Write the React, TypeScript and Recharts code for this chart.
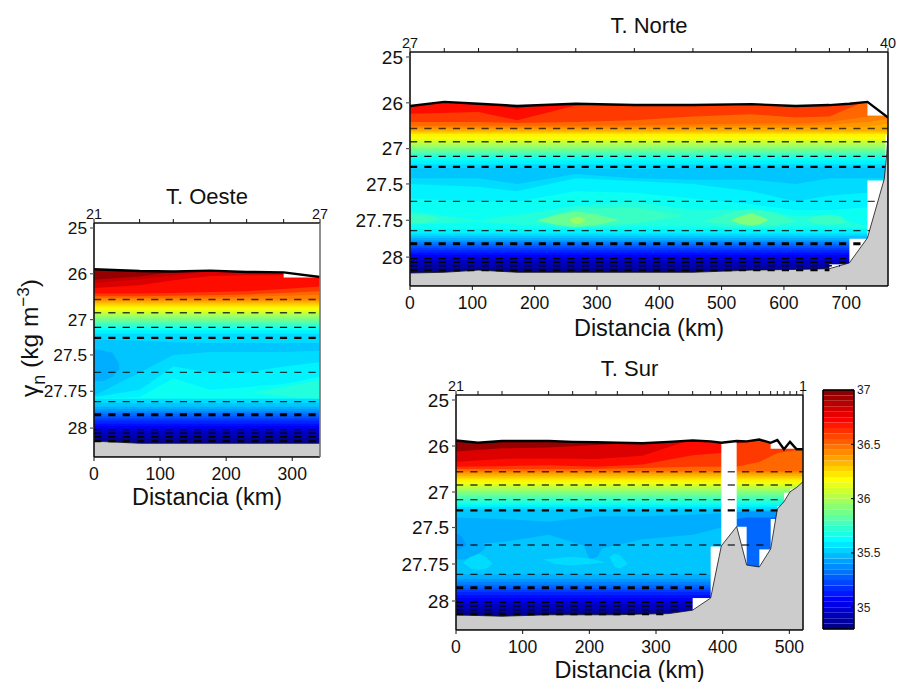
import { Area, Bar, BarChart, ComposedChart, Line, XAxis, YAxis } from 'recharts'

// rows are [salinity level, upper limit of that level in gamma-n at each knot]
// one value in the list means the limit is level over the whole section
type Row = [number, number[]]
type Blob = [number, number[], number[], number[]]

const GAMMA_TICKS = [25, 26, 27, 27.5, 27.75, 28]
const GAMMA_STOPS = [24.9, 25, 26, 27, 27.5, 27.75, 28, 28.2]
const AXIS_STOPS = [0, 5, 51, 97, 132.5, 169, 206, 235]
const ISOLINES = [26.56, 26.85, 27.11, 27.26, 27.62, 27.82, 27.91, 28.01, 28.035, 28.06, 28.09]
const ISOLINE_WIDTH = [1.6, 1.5, 1.1, 2.2, 1.3, 1.3, 3, 1.2, 1.4, 1.5, 2.4]
const ISOLINE_OPACITY = [0.7, 0.75, 1, 1, 0.75, 0.8, 1, 1, 1, 1, 1]

const THERMOCLINE_OESTE: Row[] = [
  [36.45, [26.53, 26.53, 26.53, 26.52, 26.5, 26.48, 26.46]], [36.4, [26.56]], [36.35, [26.6]], [36.3, [26.63]],
  [36.25, [26.67]], [36.2, [26.71]], [36.15, [26.75]], [36.1, [26.8]], [36.05, [26.84]], [36, [26.88]],
  [35.95, [26.92]], [35.9, [26.96]], [35.85, [27]], [35.8, [27.03]], [35.75, [27.06]], [35.7, [27.09]],
  [35.65, [27.12]], [35.6, [27.15]], [35.55, [27.2]],
]
const DEEP_OESTE: Row[] = [
  [35.55, [27.8]], [35.5, [27.83]], [35.45, [27.855]], [35.4, [27.87]], [35.35, [27.885]], [35.3, [27.9]],
  [35.25, [27.92]], [35.2, [27.935]], [35.15, [27.95]], [35.1, [27.97]], [35.05, [27.985]], [35, [28]],
  [34.95, [28.02]], [34.9, [28.045]], [34.85, [28.07]],
]
const OESTE_STATIONS = [0, 69, 120, 176, 231, 287, 342]
const OESTE_SURFACE = [25.9, 25.94, 25.95, 25.93, 25.96, 25.97, 26.07]
const OESTE_GROUND = [28.09, 28.105, 28.105, 28.105, 28.105, 28.105, 28.105]
const OESTE_ROWS: Row[] = [
  [36.95, [25.7]],
  [36.85, [26.13, 26.06, 25.96, 25.85, 25.85, 25.85, 25.85]],
  [36.8, [26.2, 26.12, 26.03, 25.95, 25.9, 25.85, 25.85]],
  [36.7, [26.31, 26.25, 26.14, 26.05, 26.03, 26.03, 26.1]],
  [36.6, [26.43, 26.43, 26.42, 26.4, 26.38, 26.33, 26.28]],
  [36.5, [26.49, 26.49, 26.48, 26.47, 26.45, 26.42, 26.38]],
  ...THERMOCLINE_OESTE,
  [35.5, [27.28, 27.3, 27.32, 27.33, 27.33, 27.33, 27.33]],
  [35.55, [27.78, 27.62, 27.5, 27.46, 27.46, 27.46, 27.44]],
  [35.6, [27.79, 27.74, 27.58, 27.62, 27.62, 27.58, 27.55]],
  [35.65, [27.8, 27.79, 27.66, 27.74, 27.72, 27.7, 27.65]],
  ...DEEP_OESTE,
]
const OESTE_BLOBS: Blob[] = [
  [35.45, [0, 14, 28, 38], [27.42, 27.44, 27.47, 27.56], [27.68, 27.68, 27.65, 27.6]],
  [35.7, [240, 300, 342], [27.76, 27.71, 27.67], [27.76, 27.79, 27.8]],
]
const OESTE_MASKS: Blob[] = [[0, [287, 342], [25.9, 25.9], [26.08, 26.08]]]
const OESTE_ENDS = [342, 342, 342, 342, 342, 342, 342, 342, 342, 342, 342]

const NORTE_KNOTS = [0, 110, 172, 266, 360, 454, 548, 619, 673, 734, 767]
const NORTE_STATIONS = [0, 55, 110, 172, 266, 360, 454, 548, 619, 673, 705, 734, 767]
const NORTE_SURFACE = [26.07, 25.98, 26.02, 26.07, 26.02, 26.05, 26.05, 26.03, 26.07, 26.05, 26.02, 25.98, 26.32]
const NORTE_GROUND_AT = [0, 55, 110, 172, 266, 360, 454, 548, 619, 673, 705, 734, 761, 765, 767]
const NORTE_GROUND = [28.11, 28.105, 28.09, 28.105, 28.105, 28.105, 28.105, 28.09, 28.085, 28.08, 28.04, 27.87, 27.43, 27.07, 26.7]
const NORTE_ROWS: Row[] = [
  [36.7, [25.7]],
  [36.6, [26.24, 26.2, 26.38, 26.06, 25.9, 25.9, 25.9, 25.9, 25.9, 25.9, 26.2]],
  [36.5, [26.42, 26.42, 26.44, 26.42, 26.38, 26.3, 26.25, 26.32, 26.3, 25.95, 25.95]],
  [36.45, [26.5, 26.5, 26.5, 26.5, 26.49, 26.47, 26.45, 26.45, 26.42, 26.3, 26.27]],
  [36.4, [26.54, 26.54, 26.54, 26.54, 26.53, 26.52, 26.5, 26.5, 26.48, 26.42, 26.35]],
  [36.35, [26.58, 26.58, 26.58, 26.58, 26.57, 26.56, 26.55, 26.55, 26.54, 26.52, 26.45]],
  [36.3, [26.62]], [36.25, [26.65]], [36.2, [26.68]], [36.15, [26.74]], [36.1, [26.8]], [36.05, [26.85]],
  [36, [26.9]], [35.95, [26.94]], [35.9, [26.98]], [35.85, [27.01]], [35.8, [27.04]], [35.75, [27.07]],
  [35.7, [27.1]], [35.65, [27.13]], [35.6, [27.17]],
  [35.55, [27.22]],
  [35.5, [27.28, 27.27, 27.27, 27.28, 27.29, 27.27, 27.26, 27.27, 27.26, 27.27, 27.27]],
  [35.55, [27.42, 27.42, 27.5, 27.36, 27.42, 27.44, 27.44, 27.5, 27.42, 27.42, 27.42]],
  [35.6, [27.5, 27.52, 27.55, 27.42, 27.46, 27.5, 27.55, 27.62, 27.58, 27.56, 27.56]],
  [35.65, [27.6, 27.62, 27.62, 27.55, 27.56, 27.6, 27.64, 27.68, 27.68, 27.66, 27.66]],
  [35.7, [27.69, 27.75, 27.71, 27.65, 27.62, 27.68, 27.68, 27.72, 27.72, 27.79, 27.8]],
  [35.65, [27.78, 27.76, 27.78, 27.8, 27.79, 27.79, 27.8, 27.79, 27.79, 27.8, 27.8]],
  [35.6, [27.81]], [35.55, [27.84]], [35.5, [27.855]], [35.45, [27.87]], [35.4, [27.885]], [35.35, [27.895]],
  [35.3, [27.91]], [35.25, [27.925]], [35.2, [27.94]], [35.15, [27.955]], [35.1, [27.97]], [35.05, [27.985]],
  [35, [28]], [34.95, [28.02]], [34.9, [28.045]], [34.85, [28.075]],
]
const NORTE_BLOBS: Blob[] = [
  [36.8, [150, 172, 195], [26.07, 26.07, 26.07], [26.07, 26.13, 26.07]],
  [35.5, [130, 172, 240], [27.3, 27.32, 27.3], [27.3, 27.38, 27.3]],
  [35.5, [590, 619, 650], [27.42, 27.4, 27.44], [27.42, 27.48, 27.44]],
  [35.75, [0, 25, 48], [27.71, 27.71, 27.74], [27.77, 27.77, 27.74]],
  [35.75, [200, 266, 360, 440], [27.76, 27.67, 27.66, 27.72], [27.76, 27.8, 27.77, 27.72]],
  [35.85, [205, 235, 266, 300, 335], [27.75, 27.71, 27.69, 27.71, 27.75], [27.75, 27.78, 27.795, 27.78, 27.75]],
  [35.95, [256, 262, 270, 277, 283], [27.75, 27.73, 27.725, 27.735, 27.75], [27.75, 27.77, 27.775, 27.765, 27.75]],
  [35.75, [470, 510, 548, 590, 620], [27.76, 27.7, 27.67, 27.7, 27.76], [27.76, 27.78, 27.79, 27.78, 27.76]],
  [35.9, [515, 530, 548, 562, 575], [27.75, 27.72, 27.7, 27.72, 27.75], [27.75, 27.775, 27.785, 27.775, 27.75]],
  [35.75, [635, 650, 670, 690, 702], [27.75, 27.72, 27.71, 27.72, 27.76], [27.75, 27.77, 27.78, 27.775, 27.76]],
]
const NORTE_MASKS: Blob[] = [
  [0, [734, 767], [25.9, 25.9], [26.28, 26.28]],
  [0, [734, 767], [27.45, 27.45], [28.2, 28.2]],
  [0, [763, 767], [26.7, 26.7], [27.5, 27.5]],
  [0, [705, 734], [27.875, 27.875], [28.2, 28.2]],
  [0, [673, 705], [28.05, 28.05], [28.2, 28.2]],
]
const NORTE_ENDS = [767, 767, 765, 762, 750, 738, 725, 705, 705, 690, 673]

const SUR_KNOTS = [0, 69, 139, 210, 280, 355, 398, 421, 455, 482, 520.5]
const SUR_STATIONS = [0, 33, 69, 139, 175, 210, 242, 280, 319, 355, 382, 398, 421, 436, 455, 472, 482, 492, 501, 511, 520.5]
const SUR_SURFACE = [25.88, 25.93, 25.89, 25.89, 25.91, 25.92, 25.93, 25.94, 25.91, 25.88, 25.9, 25.93, 25.89, 25.9, 25.86, 25.93, 25.87, 26.07, 25.91, 26.07, 26.07]
const SUR_GROUND = [28.097, 28.1, 28.105, 28.095, 28.095, 28.095, 28.095, 28.09, 28.087, 28.063, 27.98, 27.626, 27.486, 27.757, 27.77, 27.647, 27.24, 27.136, 26.996, 26.9, 26.776]
const SUR_ROWS: Row[] = [
  [36.95, [25.7]],
  [36.8, [26.12, 26.05, 26.03, 25.98, 25.92, 25.85, 25.8, 25.8, 25.8, 25.8, 25.8]],
  [36.7, [26.34, 26.28, 26.27, 26.28, 26.21, 25.85, 25.85, 25.85, 25.85, 25.85, 25.85]],
  [36.6, [26.45, 26.44, 26.42, 26.45, 26.4, 26.2, 26.15, 25.95, 25.85, 25.85, 25.85]],
  [36.5, [26.5, 26.5, 26.5, 26.5, 26.48, 26.45, 26.45, 26.45, 26.35, 26.15, 26.07]],
  [36.45, [26.54]], [36.4, [26.57]], [36.35, [26.61]], [36.3, [26.65]], [36.25, [26.69]], [36.2, [26.73]],
  [36.15, [26.78]], [36.1, [26.83]], [36.05, [26.87]], [36, [26.91]], [35.95, [26.95]], [35.9, [26.99]],
  [35.85, [27.03]], [35.8, [27.06]], [35.75, [27.09]], [35.7, [27.12]], [35.65, [27.15]], [35.6, [27.18]],
  [35.55, [27.21]],
  [35.5, [27.25]],
  [35.45, [27.36, 27.38, 27.42, 27.34, 27.34, 27.32, 27.3, 27.3, 27.3, 27.3, 27.3]],
  [35.5, [27.62, 27.6, 27.55, 27.65, 27.58, 27.55, 27.5, 27.5, 27.5, 27.5, 27.5]],
  [35.45, [27.82]], [35.4, [27.85]], [35.35, [27.87]], [35.3, [27.89]], [35.25, [27.91]], [35.2, [27.925]],
  [35.15, [27.94]], [35.1, [27.96]], [35.05, [27.98]], [35, [28]], [34.95, [28.02]], [34.9, [28.045]], [34.85, [28.07]],
]
const SUR_BLOBS: Blob[] = [
  [35.45, [0, 12, 28, 44], [27.5, 27.5, 27.54, 27.62], [27.72, 27.72, 27.7, 27.64]],
  [35.4, [0, 8, 16], [27.54, 27.56, 27.62], [27.66, 27.64, 27.62]],
  [35.45, [190, 200, 212, 222], [27.56, 27.5, 27.52, 27.6], [27.6, 27.72, 27.7, 27.62]],
  [35.55, [10, 22, 34, 45, 55], [27.74, 27.7, 27.68, 27.7, 27.75], [27.74, 27.78, 27.79, 27.78, 27.75]],
  [35.55, [130, 150, 172, 200, 225], [27.72, 27.71, 27.7, 27.71, 27.74], [27.72, 27.75, 27.76, 27.75, 27.74]],
  [35.55, [230, 238, 246, 258], [27.7, 27.68, 27.69, 27.75], [27.7, 27.77, 27.78, 27.75]],
  [35.4, [421, 436, 455, 482], [27.28, 27.27, 27.27, 27.27], [28.05, 28.05, 28.05, 28.05]],
  [35.3, [421, 436, 455, 482], [27.38, 27.36, 27.36, 27.36], [28.05, 28.05, 28.05, 28.05]],
]
const SUR_MASKS: Blob[] = [
  [0, [398, 421], [25.8, 25.8], [27.7, 27.7]],
  [0, [382, 398], [27.63, 27.63], [28.2, 28.2]],
  [0, [355, 382], [27.98, 27.98], [28.2, 28.2]],
  [0, [421, 436], [27.49, 27.49], [28.2, 28.2]],
  [0, [455, 472], [27.65, 27.65], [28.2, 28.2]],
  [0, [472, 482], [27.38, 27.38], [28.2, 28.2]],
  [0, [482, 492], [27.2, 27.2], [28.2, 28.2]],
  [0, [492, 501], [27.01, 27.01], [28.2, 28.2]],
  [0, [501, 511], [26.93, 26.93], [28.2, 28.2]],
  [0, [472, 520.5], [25.8, 25.8], [26.06, 26.06]],
]
const SUR_ENDS = [520.5, 505, 490, 482, 472, 385, 372, 355, 355, 340, 315]

const COLORBAR_LEVELS = [
  34.8, 34.85, 34.9, 34.95, 35, 35.05, 35.1, 35.15, 35.2, 35.25, 35.3, 35.35, 35.4, 35.45, 35.5, 35.55, 35.6, 35.65, 35.7, 35.75, 35.8, 35.85,
  35.9, 35.95, 36, 36.05, 36.1, 36.15, 36.2, 36.25, 36.3, 36.35, 36.4, 36.45, 36.5, 36.55, 36.6, 36.65, 36.7, 36.75, 36.8, 36.85, 36.9, 36.95,
]
const COLORBAR_TICKS = [35, 35.5, 36, 36.5, 37]

const FONT = '"Liberation Sans", Arial, sans-serif'
const INK = '#111'

function toAxis(g: number) {
  for (let i = 1; i < GAMMA_STOPS.length; i++) {
    if (g <= GAMMA_STOPS[i]) {
      const f = (g - GAMMA_STOPS[i - 1]) / (GAMMA_STOPS[i] - GAMMA_STOPS[i - 1])
      return AXIS_STOPS[i - 1] + f * (AXIS_STOPS[i] - AXIS_STOPS[i - 1])
    }
  }
  return AXIS_STOPS[AXIS_STOPS.length - 1]
}

// jet colormap over the 34.8 - 37 salinity range
function levelColor(s: number) {
  const t = (s - 34.8) / 2.2
  const ch = (c: number) => Math.round(255 * Math.max(0, Math.min(1, 1.5 - Math.abs(4 * t - c))))
  return `rgb(${ch(3)},${ch(2)},${ch(1)})`
}

const BOTTOM = 28.2
const rowPoints = (knots: number[], g: number[]) =>
  knots.map((d, i) => ({ d, y: [toAxis(g.length === 1 ? g[0] : g[i]), toAxis(BOTTOM)] }))
const blobPoints = (at: number[], lo: number[], hi: number[]) =>
  at.map((d, i) => ({ d, y: [toAxis(lo[i]), toAxis(hi[i])] }))

interface PanelProps {
  left: number
  top: number
  width: number
  height: number
  title: string
  maxKm: number
  xTicks: number[]
  stations: number[]
  firstLabel: string
  lastLabel: string
  knots: number[]
  rows: Row[]
  blobs: Blob[]
  masks: Blob[]
  surface: number[]
  groundAt: number[]
  ground: number[]
  ends: number[]
  rightColor: string
  yFont: number
  labelOffset: number
}

function Panel(p: PanelProps) {
  const padL = 60, padR = 24, padT = 60, padB = 60
  const w = p.width + padL + padR
  const h = p.height + padT + padB
  const domainY: [number, number] = [toAxis(24.9), toAxis(BOTTOM)]
  const domainX: [number, number] = [0, p.maxKm]
  const anim = { isAnimationActive: false, dot: false, activeDot: false, legendType: 'none' as const }
  return (
    <div style={{ position: 'absolute', left: p.left - padL, top: p.top - padT, width: w, height: h }}>
      <ComposedChart width={w} height={h} margin={{ top: 0, right: padR - 1, bottom: 0, left: 0 }} style={{ fontFamily: FONT }}>
        <XAxis
          dataKey="d"
          type="number"
          domain={domainX}
          ticks={p.xTicks}
          interval={0}
          height={padB}
          allowDataOverflow
          axisLine={{ stroke: INK, strokeWidth: 1.6 }}
          tickLine={{ stroke: INK, strokeWidth: 1 }}
          tickSize={4}
          tickMargin={7}
          tick={{ fill: INK, fontSize: 17.6 }}
          label={{ value: 'Distancia (km)', position: 'insideBottom', offset: p.labelOffset, fontSize: 23.5, fill: INK }}
        />
        <XAxis
          xAxisId="top"
          dataKey="d"
          orientation="top"
          type="number"
          domain={domainX}
          ticks={p.stations}
          interval={0}
          height={padT}
          allowDataOverflow
          axisLine={{ stroke: INK, strokeWidth: 1.6 }}
          tickLine={{ stroke: INK, strokeWidth: 1 }}
          tickSize={4}
          tickMargin={0}
          tick={{ fill: INK, fontSize: 14.4 }}
          tickFormatter={(v: number) => (v === 0 ? p.firstLabel : v === p.maxKm ? p.lastLabel : '')}
          label={{ value: p.title, position: 'insideTop', offset: 25, fontSize: 22, fill: INK }}
        />
        <YAxis
          type="number"
          reversed
          domain={domainY}
          ticks={GAMMA_TICKS.map(toAxis)}
          interval={0}
          width={padL}
          allowDataOverflow
          axisLine={{ stroke: INK, strokeWidth: 1.6 }}
          tickLine={{ stroke: '#555', strokeWidth: 1.2 }}
          tickSize={4}
          tickMargin={3}
          tick={{ fill: INK, fontSize: p.yFont }}
          tickFormatter={(v: number) => String(GAMMA_TICKS[GAMMA_TICKS.map(toAxis).indexOf(v)])}
        />
        <YAxis
          yAxisId="right"
          orientation="right"
          type="number"
          reversed
          domain={domainY}
          width={1}
          tick={false}
          tickLine={false}
          axisLine={{ stroke: p.rightColor, strokeWidth: 1.6 }}
        />
        {p.rows.map((r, i) => (
          <Area key={`r${i}`} {...anim} type="linear" data={rowPoints(p.knots, r[1])} dataKey="y" fill={levelColor(r[0])} fillOpacity={1} stroke="none" />
        ))}
        {p.blobs.map((b, i) => (
          <Area key={`b${i}`} {...anim} type="linear" data={blobPoints(b[1], b[2], b[3])} dataKey="y" fill={levelColor(b[0])} fillOpacity={1} stroke="none" />
        ))}
        {p.masks.map((m, i) => (
          <Area key={`m${i}`} {...anim} type="linear" data={blobPoints(m[1], m[2], m[3])} dataKey="y" fill="#fff" fillOpacity={1} stroke="none" />
        ))}
        <Area
          {...anim}
          type="linear"
          data={p.stations.map((d, i) => ({ d, y: [toAxis(25.6), toAxis(p.surface[i])] }))}
          dataKey="y"
          fill="#fff"
          fillOpacity={1}
          stroke="none"
        />
        {ISOLINES.map((g, i) => (
          <Line
            key={`l${i}`}
            {...anim}
            type="linear"
            data={[{ d: 0, y: toAxis(g) }, { d: p.ends[i], y: toAxis(g) }]}
            dataKey="y"
            stroke="#000"
            strokeOpacity={ISOLINE_OPACITY[i]}
            strokeWidth={ISOLINE_WIDTH[i]}
            strokeDasharray="7.2 7.1"
          />
        ))}
        <Area
          {...anim}
          type="linear"
          data={p.groundAt.map((d, i) => ({ d, y: [toAxis(p.ground[i]), toAxis(BOTTOM)] }))}
          dataKey="y"
          fill="#cccccc"
          fillOpacity={1}
          stroke="#111"
          strokeWidth={0.8}
        />
        <Line
          {...anim}
          xAxisId="top"
          type="linear"
          data={p.stations.map((d, i) => ({ d, y: toAxis(p.surface[i]) }))}
          dataKey="y"
          stroke="#000"
          strokeWidth={2.4}
        />
      </ComposedChart>
    </div>
  )
}

function ColorBar() {
  const row: Record<string, number> = { cat: 0, base: COLORBAR_LEVELS[0] }
  COLORBAR_LEVELS.forEach((s, i) => {
    row[`l${i}`] = (COLORBAR_LEVELS[i + 1] ?? 37) - s
  })
  const axisLine = { stroke: '#000', strokeWidth: 1.6 }
  return (
    <div style={{ position: 'absolute', left: 818, top: 380, width: 80, height: 260 }}>
      <BarChart
        width={80}
        height={260}
        data={[row]}
        margin={{ top: 9, right: 0, bottom: 10, left: 0 }}
        barCategoryGap={0}
        style={{ fontFamily: FONT }}
      >
        <XAxis dataKey="cat" height={1} tick={false} tickLine={false} axisLine={axisLine} />
        <XAxis dataKey="cat" xAxisId="top" orientation="top" height={1} tick={false} tickLine={false} axisLine={axisLine} />
        <YAxis
          type="number"
          domain={[34.8, 37]}
          ticks={COLORBAR_TICKS}
          interval={0}
          width={5}
          allowDataOverflow
          tick={false}
          tickSize={-3}
          axisLine={axisLine}
          tickLine={{ stroke: '#000' }}
        />
        <YAxis
          yAxisId="right"
          orientation="right"
          type="number"
          domain={[34.8, 37]}
          ticks={COLORBAR_TICKS}
          interval={0}
          width={44}
          allowDataOverflow
          tickSize={-3}
          tickMargin={6}
          axisLine={axisLine}
          tickLine={{ stroke: '#000' }}
          tick={{ fill: '#222', fontSize: 12 }}
        />
        <Bar dataKey="base" stackId="cb" fill="none" isAnimationActive={false} />
        {COLORBAR_LEVELS.map((s, i) => (
          <Bar key={s} dataKey={`l${i}`} stackId="cb" fill={levelColor(s + 0.025)} isAnimationActive={false} />
        ))}
      </BarChart>
    </div>
  )
}

export default function App() {
  return (
    <div style={{ position: 'absolute', left: 0, top: 0, width: 901, height: 682, background: '#fff', overflow: 'hidden' }}>
      <Panel
        left={94}
        top={223}
        width={226}
        height={234}
        title="T. Oeste"
        maxKm={342}
        xTicks={[0, 100, 200, 300]}
        stations={OESTE_STATIONS}
        firstLabel="21"
        lastLabel="27"
        knots={OESTE_STATIONS}
        rows={OESTE_ROWS}
        blobs={OESTE_BLOBS}
        masks={OESTE_MASKS}
        surface={OESTE_SURFACE}
        groundAt={OESTE_STATIONS}
        ground={OESTE_GROUND}
        ends={OESTE_ENDS}
        rightColor="#777"
        yFont={17.3}
        labelOffset={12}
      />
      <Panel
        left={410}
        top={52}
        width={478}
        height={234}
        title="T. Norte"
        maxKm={767}
        xTicks={[0, 100, 200, 300, 400, 500, 600, 700]}
        stations={NORTE_STATIONS}
        firstLabel="27"
        lastLabel="40"
        knots={NORTE_KNOTS}
        rows={NORTE_ROWS}
        blobs={NORTE_BLOBS}
        masks={NORTE_MASKS}
        surface={NORTE_SURFACE}
        groundAt={NORTE_GROUND_AT}
        ground={NORTE_GROUND}
        ends={NORTE_ENDS}
        rightColor="#111"
        yFont={19}
        labelOffset={10}
      />
      <Panel
        left={456}
        top={395}
        width={347}
        height={235}
        title="T. Sur"
        maxKm={520.5}
        xTicks={[0, 100, 200, 300, 400, 500]}
        stations={SUR_STATIONS}
        firstLabel="21"
        lastLabel="1"
        knots={SUR_KNOTS}
        rows={SUR_ROWS}
        blobs={SUR_BLOBS}
        masks={SUR_MASKS}
        surface={SUR_SURFACE}
        groundAt={SUR_STATIONS}
        ground={SUR_GROUND}
        ends={SUR_ENDS}
        rightColor="#111"
        yFont={19}
        labelOffset={12}
      />
      <ColorBar />
      <svg width={60} height={200} style={{ position: 'absolute', left: 0, top: 240 }}>
        <text
          transform="translate(38,157) rotate(-90)"
          fontFamily={FONT}
          fontSize={24.5}
          fill={INK}
        >
          <tspan>γ</tspan>
          <tspan dy={7} fontSize={18}>n</tspan>
          <tspan dy={-7}> (kg m</tspan>
          <tspan dy={-9} fontSize={17}>−3</tspan>
          <tspan dy={9}>)</tspan>
        </text>
      </svg>
    </div>
  )
}
